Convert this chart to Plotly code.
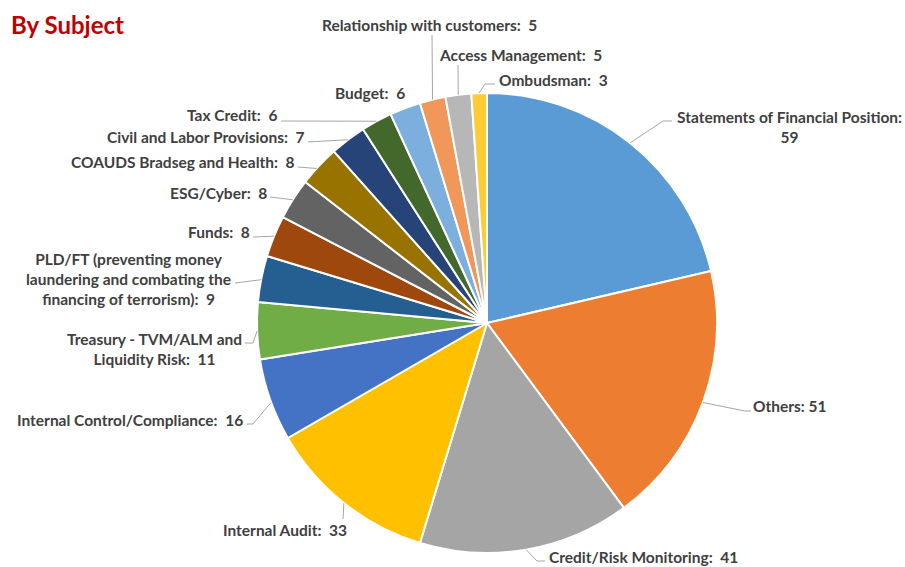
import math
import plotly.graph_objects as go

# ---- data ----
subjects = [
    "Statements of Financial Position", "Others", "Credit/Risk Monitoring",
    "Internal Audit", "Internal Control/Compliance",
    "Treasury - TVM/ALM and Liquidity Risk",
    "PLD/FT (preventing money laundering and combating the financing of terrorism)",
    "Funds", "ESG/Cyber", "COAUDS Bradseg and Health",
    "Civil and Labor Provisions", "Tax Credit", "Budget",
    "Relationship with customers", "Access Management", "Ombudsman",
]
counts = [59, 51, 41, 33, 16, 11, 9, 8, 8, 8, 7, 6, 6, 5, 5, 3]
label_texts = [
    "Statements of Financial Position:<br>59",
    "Others:\u00a051",
    "Credit/Risk Monitoring:\u00a0\u00a041",
    "Internal Audit:\u00a0\u00a033",
    "Internal Control/Compliance:\u00a0\u00a016",
    "Treasury - TVM/ALM and<br>Liquidity Risk:\u00a0\u00a011",
    "PLD/FT (preventing money<br>laundering and combating the<br>financing of terrorism):\u00a0\u00a09",
    "Funds:\u00a0\u00a08",
    "ESG/Cyber:\u00a0\u00a08",
    "COAUDS Bradseg and Health:\u00a0\u00a08",
    "Civil and Labor Provisions:\u00a0\u00a07",
    "Tax Credit:\u00a0\u00a06",
    "Budget:\u00a0\u00a06",
    "Relationship with customers:\u00a0\u00a05",
    "Access Management:\u00a0\u00a05",
    "Ombudsman:\u00a0\u00a03",
]
colors = ["#5B9BD5", "#ED7D31", "#A5A5A5", "#FFC000", "#4472C4", "#70AD47",
          "#255E91", "#9E480E", "#636363", "#997300", "#264478", "#43682B",
          "#7CAFDD", "#F1975A", "#B7B7B7", "#FFCD33"]

# ---- layout / styling ----
W, H = 905, 567
CX, CY, R = 487, 323, 230
FONT = "Lato, Calibri, Carlito, sans-serif"
TXT = "#404040"
LINE = "#A6A6A6"
FS = 15.5

# label placement (px): x, y, xanchor, frac-in-slice for leader start, leader path points
label_pos = [
    (789, 127, "center", 0.5, [(663, 121), (672, 121)]),
    (751, 406, "left", 0.5, [(745, 411), (751, 411)]),
    (547, 557, "left", 0.5, [(537, 561), (545, 561)]),
    (221, 530, "left", 0.5, [(343, 519)]),
    (245, 420, "right", 0.47, [(253, 424), (247, 424)]),
    (154, 349, "center", 0.5, [(253, 343), (245, 343)]),
    (128, 279, "center", 0.48, [(235, 283)]),
    (252, 232, "right", 0.5, [(253, 237)]),
    (269, 193, "right", 0.48, [(270, 197)]),
    (297, 162, "right", 0.42, [(298, 167)]),
    (306, 137, "right", 0.5, [(308, 142)]),
    (279, 115, "right", 0.5, [(281, 121)]),
    (407, 93, "right", None, []),
    (320, 25, "left", 0.5, [(432, 35)]),
    (437, 55, "left", 0.5, [(458, 65)]),
    (497, 80, "left", 0.5, [(485, 84), (495, 84)]),
]


def px(x, y):
    return x / W, 1 - y / H


fig = go.Figure(go.Pie(
    labels=subjects, values=counts, sort=False, direction="clockwise",
    rotation=0, textinfo="none", hoverinfo="label+value",
    marker=dict(colors=colors, line=dict(color="white", width=2)),
    domain=dict(x=[(CX - R) / W, (CX + R) / W], y=[1 - (CY + R) / H, 1 - (CY - R) / H]),
    showlegend=False,
))

total = sum(counts)
cum = 0
annotations = []
shapes = []
for v, t, (lx, ly, xa, frac, pts) in zip(counts, label_texts, label_pos):
    a0 = cum / total * 360
    a1 = (cum + v) / total * 360
    cum += v
    ax, ay = px(lx, ly)
    annotations.append(dict(
        x=ax, y=ay, xref="paper", yref="paper", text=t, showarrow=False,
        xanchor=xa, yanchor="middle", align="center",
        font=dict(family=FONT, size=FS, color=TXT, weight=700),
    ))
    if frac is None or not pts:
        continue
    ang = math.radians(a0 + frac * (a1 - a0))
    sx = CX + R * math.sin(ang)
    sy = CY - R * math.cos(ang)
    path = "M {} {}".format(*px(sx, sy))
    for (qx, qy) in pts:
        path += " L {} {}".format(*px(qx, qy))
    shapes.append(dict(type="path", path=path, xref="paper", yref="paper",
                       line=dict(color=LINE, width=1)))

annotations.append(dict(
    x=px(9, 24)[0], y=px(9, 24)[1], xref="paper", yref="paper",
    text="By Subject", showarrow=False, xanchor="left", yanchor="middle",
    font=dict(family=FONT, size=24, color="#C00000", weight=700),
))

fig.update_layout(
    width=W, height=H, margin=dict(l=0, r=0, t=0, b=0),
    paper_bgcolor="white", plot_bgcolor="white",
    annotations=annotations, shapes=shapes,
)

fig.write_html("out.html", config={"displayModeBar": False},
               post_script="document.body.style.margin='0px';")
